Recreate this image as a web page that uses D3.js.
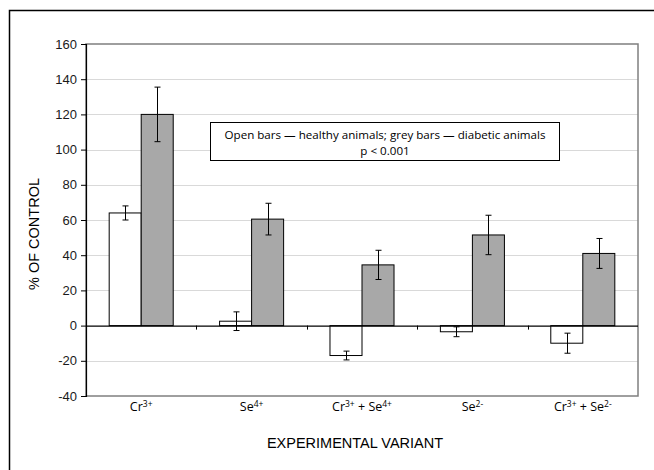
<!DOCTYPE html>
<html>
<head>
<meta charset="utf-8">
<script src="https://cdn.jsdelivr.net/npm/d3@7"></script>
<style>
  body { margin: 0; background: #fff; }
  svg { display: block; }
</style>
</head>
<body>
<svg id="svg"></svg>
<script>
// category labels: [base, superscript] parts
const categories = ["Cr3+", "Se4+", "Cr3+ + Se4+", "Se2-", "Cr3+ + Se2-"];
const labelParts = [
  [["Cr", "3+"]],
  [["Se", "4+"]],
  [["Cr", "3+"], [" + Se", "4+"]],
  [["Se", "2-"]],
  [["Cr", "3+"], [" + Se", "2-"]]
];
const groups = ["healthy", "diabetic"];
const healthy = [64, 2.5, -17, -3.5, -10];
const healthyErr = [4, 5.3, 2.5, 2.8, 5.7];
const diabetic = [120, 60.5, 34.5, 51.5, 41];
const diabeticErr = [15.5, 9, 8.3, 11.2, 8.5];
const yTicks = [-40, -20, 0, 20, 40, 60, 80, 100, 120, 140, 160];

const data = [];
categories.forEach((c, i) => {
  data.push({cat: c, group: "healthy", value: healthy[i], err: healthyErr[i]});
  data.push({cat: c, group: "diabetic", value: diabetic[i], err: diabeticErr[i]});
});

const layout = {width: 654, height: 470, left: 86, right: 638, top: 44, bottom: 396};

const svg = d3.select("#svg")
  .attr("width", layout.width)
  .attr("height", layout.height);

// outer frame (runs off the right and bottom edges)
svg.append("path")
  .attr("d", `M9.5,480 V10.5 H664`)
  .attr("fill", "none")
  .attr("stroke", "#000")
  .attr("stroke-width", 1.5);

const x0 = d3.scaleBand()
  .domain(categories)
  .range([layout.left, layout.right])
  .paddingInner(0.42)
  .paddingOuter(0.21);

const x1 = d3.scaleBand()
  .domain(groups)
  .range([0, x0.bandwidth()]);

const y = d3.scaleLinear()
  .domain([-40, 160])
  .range([layout.bottom, layout.top]);

// gridlines
svg.append("g")
  .selectAll("line")
  .data(yTicks.filter(d => d !== 0 && d !== 160 && d !== -40))
  .join("line")
  .attr("x1", layout.left)
  .attr("x2", layout.right)
  .attr("y1", d => Math.round(y(d)) + 0.5)
  .attr("y2", d => Math.round(y(d)) + 0.5)
  .attr("stroke", "#d9d9d9")
  .attr("stroke-width", 1);

// plot area border
svg.append("rect")
  .attr("x", layout.left)
  .attr("y", layout.top)
  .attr("width", layout.right - layout.left)
  .attr("height", layout.bottom - layout.top)
  .attr("fill", "none")
  .attr("stroke", "#7f7f7f")
  .attr("stroke-width", 1.5);

// bars
svg.append("g")
  .selectAll("rect")
  .data(data)
  .join("rect")
  .attr("x", d => x0(d.cat) + x1(d.group))
  .attr("y", d => y(Math.max(0, d.value)))
  .attr("width", x1.bandwidth())
  .attr("height", d => Math.abs(y(d.value) - y(0)))
  .attr("fill", d => d.group === "healthy" ? "#ffffff" : "#a8a8a8")
  .attr("stroke", "#000")
  .attr("stroke-width", 1);

// error bars
const eb = svg.append("g")
  .attr("stroke", "#000")
  .attr("stroke-width", 1)
  .selectAll("g")
  .data(data)
  .join("g")
  .attr("transform", d => `translate(${Math.round(x0(d.cat) + x1(d.group) + x1.bandwidth() / 2) + 0.5},0)`);

eb.append("line")
  .attr("y1", d => y(d.value + d.err))
  .attr("y2", d => y(d.value - d.err));
eb.append("line")
  .attr("x1", -3).attr("x2", 3)
  .attr("y1", d => y(d.value + d.err))
  .attr("y2", d => y(d.value + d.err));
eb.append("line")
  .attr("x1", -3).attr("x2", 3)
  .attr("y1", d => y(d.value - d.err))
  .attr("y2", d => y(d.value - d.err));

// zero line with category separator ticks
svg.append("g")
  .attr("transform", `translate(0,${y(0)})`)
  .call(d3.axisBottom(x0).tickSize(0).tickFormat(""))
  .call(g => g.select(".domain").attr("stroke", "#000").attr("stroke-width", 1.2).attr("d", `M${layout.left},0.5H${layout.right}`))
  .call(g => g.selectAll(".sep")
    .data(categories.slice(1))
    .join("line")
    .attr("class", "sep")
    .attr("x1", d => Math.round(x0(d) - x0.step() * x0.paddingInner() / 2) + 0.5)
    .attr("x2", d => Math.round(x0(d) - x0.step() * x0.paddingInner() / 2) + 0.5)
    .attr("y1", 0)
    .attr("y2", 4)
    .attr("stroke", "#000"));

// y axis
svg.append("g")
  .attr("transform", `translate(${layout.left},0)`)
  .call(d3.axisLeft(y).tickValues(yTicks).tickSize(5).tickPadding(4).tickFormat(d => String(d)))
  .call(g => g.select(".domain").attr("stroke", "#000").attr("stroke-width", 1.2))
  .call(g => g.selectAll("text")
    .attr("font-family", "'Liberation Sans', Arial, sans-serif")
    .attr("font-size", 13)
    .attr("fill", "#1a1a1a"));

// category labels
const catLabels = svg.append("g")
  .selectAll("text")
  .data(categories)
  .join("text")
  .attr("x", d => x0(d) + x0.bandwidth() / 2)
  .attr("y", 411)
  .attr("text-anchor", "middle")
  .attr("font-family", "'Open Sans', sans-serif")
  .attr("font-size", 12.5)
  .attr("fill", "#000");

catLabels.each(function(d, i) {
  const t = d3.select(this);
  labelParts[i].forEach(([base, sup], j) => {
    t.append("tspan").attr("dy", j === 0 ? 0 : 4).text(base);
    t.append("tspan").attr("dy", -4).attr("font-size", 8.5).text(sup);
  });
});

// axis titles
svg.append("text")
  .attr("x", 355)
  .attr("y", 448)
  .attr("text-anchor", "middle")
  .attr("font-family", "'Liberation Sans', Arial, sans-serif")
  .attr("font-size", 14.5)
  .attr("fill", "#000")
  .text("EXPERIMENTAL VARIANT");

svg.append("text")
  .attr("transform", `translate(39,${(y(160) + y(-40)) / 2 + 14}) rotate(-90)`)
  .attr("text-anchor", "middle")
  .attr("font-family", "'Liberation Sans', Arial, sans-serif")
  .attr("font-size", 14.5)
  .attr("fill", "#000")
  .text("% OF CONTROL");

// annotation box
const note = svg.append("g");
note.append("rect")
  .attr("x", 210.5)
  .attr("y", 122.5)
  .attr("width", 349)
  .attr("height", 38)
  .attr("fill", "#fff")
  .attr("stroke", "#000")
  .attr("stroke-width", 1);
note.append("text")
  .attr("x", 385)
  .attr("y", 139)
  .attr("text-anchor", "middle")
  .attr("font-family", "'Open Sans', sans-serif")
  .attr("font-size", 11.6)
  .attr("fill", "#000")
  .text("Open bars \u2014 healthy animals; grey bars \u2014 diabetic animals");
note.append("text")
  .attr("x", 385)
  .attr("y", 155)
  .attr("text-anchor", "middle")
  .attr("font-family", "'Open Sans', sans-serif")
  .attr("font-size", 11.6)
  .attr("fill", "#000")
  .text("p < 0.001");
</script>
</body>
</html>
